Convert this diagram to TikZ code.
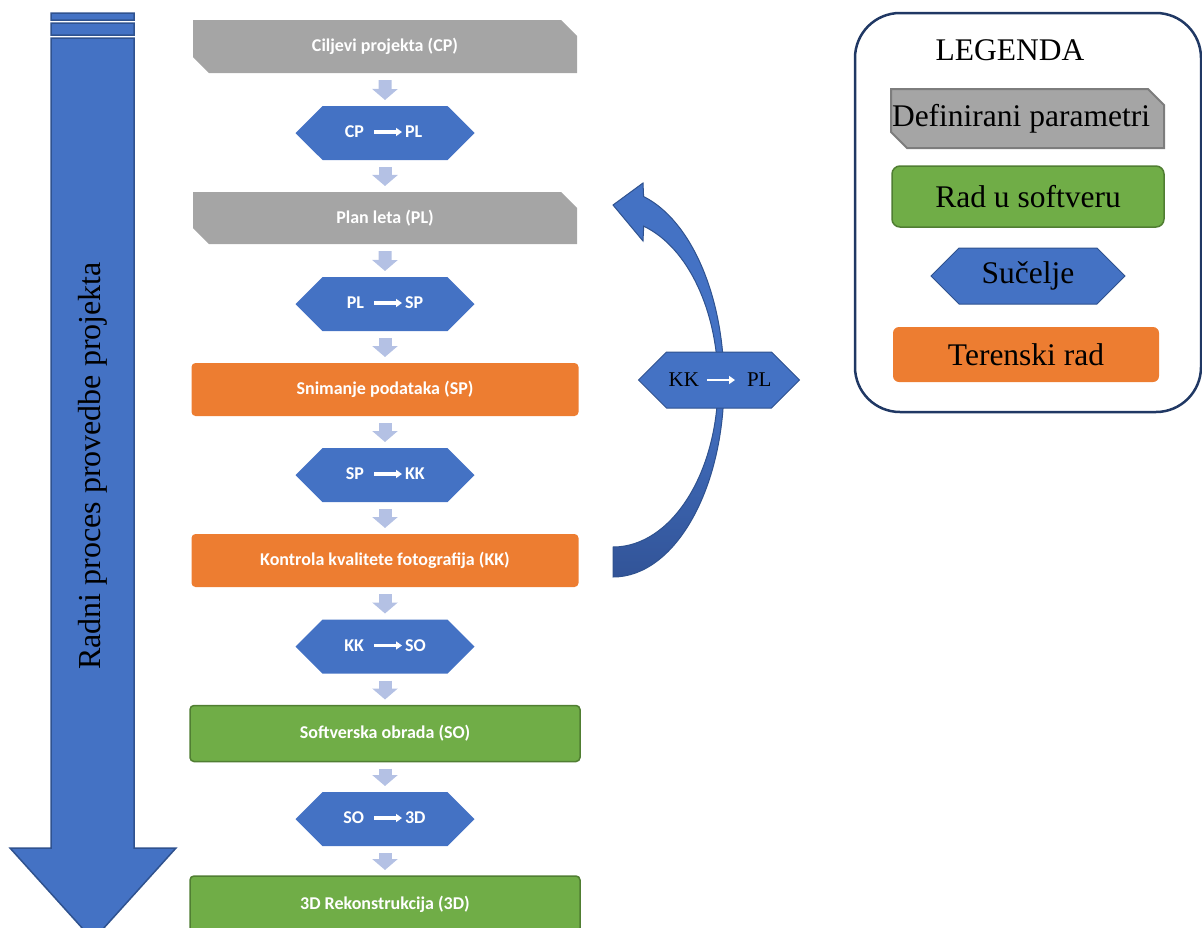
\documentclass[tikz,border=0pt]{standalone}
\usepackage{fontspec}
\setmainfont{Liberation Serif}
\newfontfamily\calib{Carlito}
\usetikzlibrary{shapes.misc,shapes.symbols,arrows.meta}
\definecolor{greyfill}{RGB}{165,165,165}
\definecolor{greyline}{RGB}{125,125,125}
\definecolor{bluefill}{RGB}{68,114,196}
\definecolor{blueline}{RGB}{47,82,143}
\definecolor{bluedark}{RGB}{50,84,152}
\definecolor{orangefill}{RGB}{237,125,49}
\definecolor{greenfill}{RGB}{112,173,71}
\definecolor{greenline}{RGB}{80,126,50}
\definecolor{lavender}{RGB}{180,193,228}
\definecolor{navy}{RGB}{32,56,100}

\begin{document}
\begin{tikzpicture}[x=1pt,y=-1pt,
    every node/.style={inner sep=0pt,outer sep=0pt},
    txt/.style={font=\calib\bfseries\fontsize{18}{21}\selectfont,text=white},
    leg/.style={font=\fontsize{31.5}{36}\selectfont},
    params/.style={chamfered rectangle,chamfered rectangle corners={north east,south west},
                   chamfered rectangle xsep=8pt,chamfered rectangle ysep=8pt,fill=greyfill},
    interface/.style={signal,signal to=west and east,fill=bluefill},
    fieldwork/.style={rectangle,rounded corners=4,fill=orangefill},
    software/.style={rectangle,rounded corners=4,fill=greenfill,draw=greenline,line width=1.5},
    flow/.style={lavender,line width=13,-{Triangle[length=11pt,width=25pt]},
                 shorten <=7pt,shorten >=6pt},
    whitearr/.style={white,line width=3.5,-{Triangle[length=6pt,width=8pt]},
                     shorten <=10pt,shorten >=3pt}]
\useasboundingbox (0,0) rectangle (1202,927);

\filldraw[fill=bluefill,draw=blueline,line width=1.5]
      ( 51, 13) rectangle (134, 20)
      ( 51, 23) rectangle (134, 35)
      ( 51, 38) -- (134, 38) -- (134,848) -- (176,848)
   -- ( 93,940) -- ( 10,848) -- ( 51,848) -- cycle;
\node [rotate=90,font=\fontsize{32}{36}\selectfont] (proc) at (93,466) {Radni proces provedbe projekta};

\node [params,txt,minimum width=384,minimum height=53] (cp) at (385, 46.5) {Ciljevi projekta (CP)};
\node [interface,minimum width=179,minimum height=54] (h1) at (385,133) {};
\node [params,txt,minimum width=384,minimum height=52] (pl) at (385,218) {Plan leta (PL)};
\node [interface,minimum width=179,minimum height=54] (h2) at (385,304) {};
\node [fieldwork,txt,minimum width=387,minimum height=53] (sp) at (385,389.5) {Snimanje podataka (SP)};
\node [interface,minimum width=179,minimum height=54] (h3) at (385,475) {};
\node [fieldwork,txt,minimum width=387,minimum height=53] (kk) at (385,560.5) {Kontrola kvalitete fotografija (KK)};
\node [interface,minimum width=179,minimum height=54] (h4) at (385,646.5) {};
\node [software,txt,minimum width=390,minimum height=56] (so) at (385,733.5) {Softverska obrada (SO)};
\node [interface,minimum width=179,minimum height=54] (h5) at (385,819) {};
\node [software,txt,minimum width=390,minimum height=56] (rec) at (385,904) {3D Rekonstrukcija (3D)};

\path
    (364,132)   node [txt,anchor=east] (h1a) {CP}
    (405,132)   node [txt,anchor=west] (h1b) {PL}
    (364,303)   node [txt,anchor=east] (h2a) {PL}
    (405,303)   node [txt,anchor=west] (h2b) {SP}
    (364,474)   node [txt,anchor=east] (h3a) {SP}
    (405,474)   node [txt,anchor=west] (h3b) {KK}
    (364,645.5) node [txt,anchor=east] (h4a) {KK}
    (405,645.5) node [txt,anchor=west] (h4b) {SO}
    (364,818)   node [txt,anchor=east] (h5a) {SO}
    (405,818)   node [txt,anchor=west] (h5b) {3D};
\draw [whitearr] (h1a) -- (h1b);
\draw [whitearr] (h2a) -- (h2b);
\draw [whitearr] (h3a) -- (h3b);
\draw [whitearr] (h4a) -- (h4b);
\draw [whitearr] (h5a) -- (h5b);

\draw [flow] (cp) -- (h1);
\draw [flow] (h1) -- (pl);
\draw [flow] (pl) -- (h2);
\draw [flow] (h2) -- (sp);
\draw [flow] (sp) -- (h3);
\draw [flow] (h3) -- (kk);
\draw [flow] (kk) -- (h4);
\draw [flow] (h4) -- (so);
\draw [flow] (so) -- (h5);
\draw [flow] (h5) -- (rec);

\shade [top color=bluefill,bottom color=bluedark,draw=blueline,line width=1]
      (613,577) arc [start angle=90,end angle=0,x radius=111,y radius=194]
   -- (718,383) arc [start angle=0,end angle=90,x radius=105,y radius=164] -- cycle;
\filldraw [fill=bluefill,draw=blueline,line width=1]
      (724,383) arc [start angle=0,end angle=-74,x radius=111,y radius=194]
   -- (643,183) -- (613,205) -- (643,241) -- (643.7,226.2)
      arc [start angle=-73,end angle=0,x radius=105,y radius=164] -- cycle;
\node [interface,draw=blueline,line width=1,minimum width=161,minimum height=56] (back) at (719,380) {};
\path
    (699,380) node [font=\fontsize{21}{24}\selectfont,anchor=east] (backa) {KK}
    (747,380) node [font=\fontsize{21}{24}\selectfont,anchor=west] (backb) {PL};
\draw [whitearr,line width=2.5,shorten <=8pt,shorten >=12pt] (backa) -- (backb);

\draw [navy,line width=2.5,rounded corners=45] (855,13) rectangle (1201,412);
\node [leg] (legend) at (1010,50) {LEGENDA};
\node [params,leg,draw=greyline,line width=2,minimum width=273,minimum height=59] (legparams) at (1027.5,118.5) {\hspace*{-13pt}Definirani parametri};
\node [software,leg,minimum width=272,minimum height=61,rounded corners=8] (legsoft) at (1028,196.5) {Rad u softveru};
\node [interface,leg,draw=blueline,line width=1,minimum width=194,minimum height=56] (legiface) at (1028,276) {Sučelje};
\node [fieldwork,leg,minimum width=266,minimum height=55,rounded corners=6] (legfield) at (1026,354.5) {Terenski rad};
\end{tikzpicture}
\end{document}
